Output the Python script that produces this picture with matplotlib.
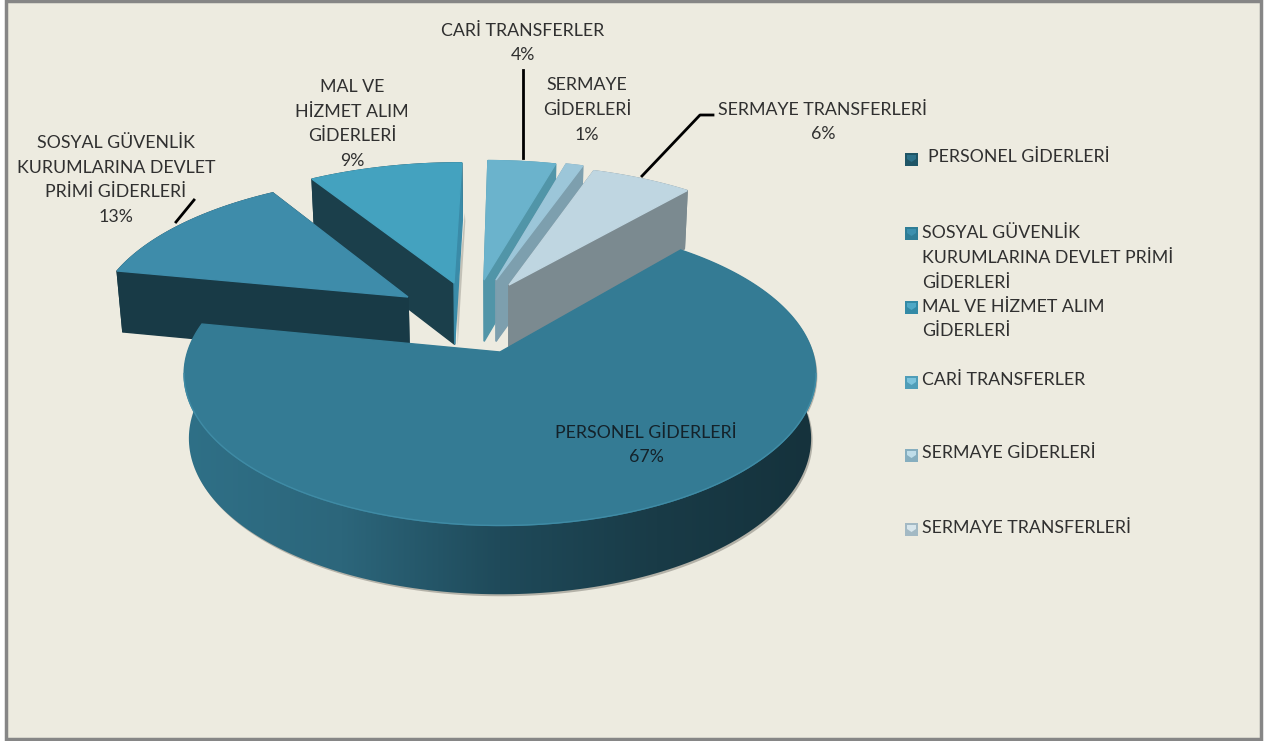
import matplotlib
matplotlib.use('Agg')
import matplotlib.pyplot as plt
from matplotlib.colors import LinearSegmentedColormap
from matplotlib.patches import Polygon
import numpy as np

plt.rcParams['font.family'] = ['Lato', 'DejaVu Sans']

names = ['PERSONEL GİDERLERİ', 'SOSYAL GÜVENLİK KURUMLARINA DEVLET PRİMİ GİDERLERİ',
         'MAL VE HİZMET ALIM GİDERLERİ', 'CARİ TRANSFERLER', 'SERMAYE GİDERLERİ',
         'SERMAYE TRANSFERLERİ']
values = [67, 13, 9, 4, 1, 6]

top_colors = ['#347B94', '#3E8CAA', '#44A2BF', '#6BB3CC', '#9CC6D9', '#BFD6E1']
left_colors = ['#1F4A5A', '#183A46', '#1B3F4B', '#5195A8', '#7D9FAE', '#7B8A90']
right_colors = ['#1F4A5A', '#183A46', '#3A8BA8', '#5195A8', '#7D9FAE', '#7B8A90']
legend_edge = ['#1F5566', '#2F7D96', '#338AA6', '#4F9DB8', '#86AEBF', '#A3B9C4']
legend_face = ['#2C7088', '#3C90AE', '#4FA8C6', '#7CC3DC', '#BFDDE9', '#D8E6EC']

# where each slice's tip sits on the picture, and its size
tips = [(500, 352), (408, 297), (454, 283), (484, 280), (496, 280), (509, 285)]
radii = [0.99, 1.03, 1.06, 1.06, 1.06, 1.05]

start_angle = 50
cx, cy = 500, 350
rx, ry, k = 315, 149, 0.1475


def project(u, v):
    w = 1 + k * v
    return cx + rx * u / w, cy - ry * v / w


def unproject(x, y):
    q = (cy - y) / ry
    v = q / (1 - k * q)
    return (x - cx) / rx * (1 + k * v), v


def drop(x, y, v):
    d = 63.5 / np.sqrt(1 + k * v)
    return cx + (x - cx) * 0.985, y + d


def slice_points(tip, r, a0, a1):
    tu, tv = unproject(*tip)
    a = np.radians(np.linspace(a0, a1, 200))
    u = tu + r * np.cos(a)
    v = tv + r * np.sin(a)
    x, y = project(u, v)
    bx, by = drop(x, y, v)
    btx, bty = drop(tip[0], tip[1], tv)
    return x, y, bx, by, btx, bty


fig = plt.figure(figsize=(12.69, 7.41), dpi=100, facecolor='white')
ax = fig.add_axes([0, 0, 1, 1])
ax.set_xlim(0, 1269)
ax.set_ylim(741, 0)
ax.axis('off')

ax.add_patch(plt.Rectangle((5.5, 1), 1255.5, 738, fc='#EDEBE0', ec='#868686', lw=2.5, zorder=0))

angles = [start_angle]
for val in values:
    angles.append(angles[-1] - val * 3.6)

wall_cmap = LinearSegmentedColormap.from_list('wall', ['#2F7087', '#2C667B', '#1F4A5A', '#193B47', '#15323C'])

# the right hand slices sit in front of their neighbours, the main slice goes last
for n, i in enumerate([3, 4, 5, 2, 1, 0]):
    x, y, bx, by, btx, bty = slice_points(tips[i], radii[i], angles[i], angles[i + 1])
    z = 10 + n * 4
    if i == 0:
        ax.fill(np.r_[x, bx[::-1]] + 1.5, np.r_[y, by[::-1]] + 2, color='#8E8C84', alpha=0.6, zorder=z - 1, lw=0)
        wall = Polygon(np.column_stack([np.r_[x, bx[::-1]], np.r_[y, by[::-1]]]),
                       closed=True, fc='none', ec='none', transform=ax.transData)
        ax.add_patch(wall)
        img = ax.imshow(np.linspace(0, 1, 256)[None, :], cmap=wall_cmap, extent=(184, 815, 600, 200),
                        aspect='auto', zorder=z)
        img.set_clip_path(wall)
    else:
        if i == 2:
            ax.fill([tips[i][0] + 3, x[-1] + 3, bx[-1] + 3, btx + 3],
                    [tips[i][1] + 20, y[-1] + 50, by[-1] + 1, bty + 1], color='#9A988F', alpha=0.5, zorder=z - 1, lw=0)
        # arc wall, then the two cut faces
        ax.fill(np.r_[x, bx[::-1]], np.r_[y, by[::-1]], color=left_colors[i], zorder=z)
        ax.fill([tips[i][0], x[0], bx[0], btx], [tips[i][1], y[0], by[0], bty], color=left_colors[i], zorder=z)
        ax.fill([tips[i][0], x[-1], bx[-1], btx], [tips[i][1], y[-1], by[-1], bty], color=right_colors[i], zorder=z + 1)
    ax.fill(np.r_[tips[i][0], x], np.r_[tips[i][1], y], color=top_colors[i], zorder=z + 2)
    if i == 0:
        front = y > tips[0][1] + 20
        ax.plot(x[front], y[front], color='#3F8BA5', lw=1, zorder=z + 2)

ax.set_xlim(0, 1269)
ax.set_ylim(741, 0)

# leader lines
ax.plot([176, 194], [222, 200], color='black', lw=2, zorder=40)
ax.plot([523, 523], [70, 158], color='black', lw=2, zorder=9)
ax.plot([642, 700, 713], [176, 115, 115], color='black', lw=2, zorder=9)

txt = dict(fontsize=12.8, color='#303030', ha='center', va='center', zorder=50, linespacing=1.67)
ax.text(523, 43, 'CARİ TRANSFERLER\n4%', **txt)
ax.text(587, 110, 'SERMAYE\nGİDERLERİ\n1%', **txt)
ax.text(823, 122, 'SERMAYE TRANSFERLERİ\n6%', **txt)
ax.text(352, 124, 'MAL VE\nHİZMET ALIM\nGİDERLERİ\n9%', **txt)
ax.text(116, 180, 'SOSYAL GÜVENLİK\nKURUMLARINA DEVLET\nPRİMİ GİDERLERİ\n13%', **txt)
ax.text(646, 445, 'PERSONEL GİDERLERİ\n67%', fontsize=12.8, color='#14222A', ha='center', va='center',
        zorder=50, linespacing=1.67)

# legend
legend_lines = ['PERSONEL GİDERLERİ', 'SOSYAL GÜVENLİK\nKURUMLARINA DEVLET PRİMİ\nGİDERLERİ',
                'MAL VE HİZMET ALIM\nGİDERLERİ', 'CARİ TRANSFERLER', 'SERMAYE GİDERLERİ',
                'SERMAYE TRANSFERLERİ']
legend_y = [159, 233, 307, 382, 455, 529]
legend_text_y = [157, 258, 319, 380, 453, 528]
for i in range(6):
    y0 = legend_y[i]
    ax.add_patch(plt.Rectangle((905, y0 - 6), 13, 13, fc=legend_edge[i], ec='none', zorder=30))
    ax.fill([907, 916, 916, 911.5, 907], [y0 - 4, y0 - 4, y0, y0 + 3, y0], color=legend_face[i], zorder=31, lw=0)
    ax.text(928 if i == 0 else 922, legend_text_y[i], legend_lines[i], fontsize=12.8, color='#303030',
            ha='left', va='center', zorder=50, linespacing=1.67)

fig.savefig('out.png', dpi=100, facecolor=fig.get_facecolor())
